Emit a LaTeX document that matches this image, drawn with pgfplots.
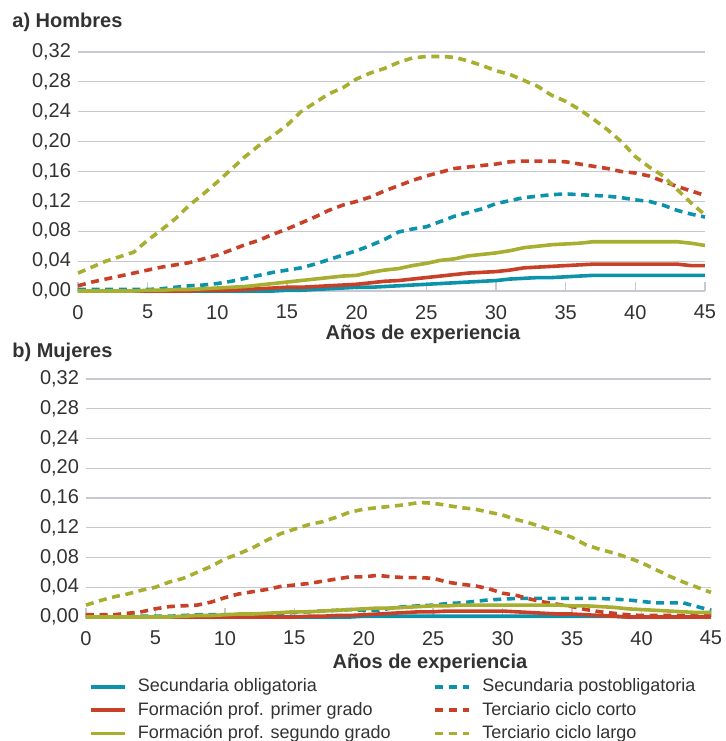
\documentclass[border=0pt]{standalone}
\usepackage{fontspec}
\setmainfont{Liberation Sans}
\usepackage{pgfplots}
\usepackage{pgfplotstable}
\pgfplotsset{compat=1.18}
\definecolor{cteal}{RGB}{12,146,170}
\definecolor{cred}{RGB}{200,64,40}
\definecolor{colive}{RGB}{168,174,48}
\definecolor{gridc}{RGB}{200,201,208}
\definecolor{txtc}{RGB}{50,50,50}

\pgfplotstableread{
x so sp fp1 tcc fp2 tcl
0 0.000 0.002 0.000 0.007 0.000 0.024
1 0.000 0.002 0.000 0.012 0.000 0.032
2 0.000 0.002 0.000 0.016 0.000 0.040
3 0.000 0.002 0.000 0.020 0.000 0.046
4 0.000 0.002 0.000 0.024 0.000 0.052
5 0.000 0.002 0.000 0.028 0.001 0.068
6 0.000 0.003 0.000 0.032 0.001 0.082
7 0.000 0.005 0.000 0.035 0.002 0.097
8 0.000 0.007 0.000 0.038 0.002 0.115
9 0.000 0.008 0.001 0.043 0.003 0.130
10 0.000 0.010 0.001 0.048 0.004 0.146
11 0.000 0.013 0.001 0.055 0.005 0.163
12 0.000 0.017 0.002 0.062 0.006 0.180
13 0.000 0.021 0.003 0.068 0.008 0.195
14 0.000 0.025 0.004 0.076 0.010 0.208
15 0.001 0.028 0.005 0.083 0.012 0.222
16 0.001 0.031 0.005 0.091 0.014 0.240
17 0.002 0.036 0.006 0.099 0.016 0.252
18 0.003 0.042 0.007 0.108 0.018 0.264
19 0.004 0.048 0.008 0.115 0.020 0.272
20 0.005 0.054 0.009 0.120 0.021 0.284
21 0.005 0.061 0.011 0.126 0.025 0.292
22 0.006 0.069 0.013 0.134 0.028 0.298
23 0.007 0.079 0.014 0.141 0.030 0.306
24 0.008 0.083 0.016 0.148 0.034 0.312
25 0.009 0.086 0.018 0.154 0.037 0.314
26 0.010 0.093 0.020 0.159 0.041 0.314
27 0.011 0.100 0.022 0.164 0.043 0.313
28 0.012 0.105 0.024 0.166 0.047 0.308
29 0.013 0.110 0.025 0.168 0.049 0.302
30 0.014 0.117 0.026 0.170 0.051 0.295
31 0.016 0.121 0.028 0.173 0.054 0.290
32 0.017 0.125 0.031 0.174 0.058 0.282
33 0.018 0.127 0.032 0.174 0.060 0.274
34 0.018 0.129 0.033 0.174 0.062 0.262
35 0.019 0.130 0.034 0.173 0.063 0.254
36 0.020 0.129 0.035 0.170 0.064 0.243
37 0.021 0.128 0.036 0.167 0.066 0.230
38 0.021 0.127 0.036 0.164 0.066 0.216
39 0.021 0.125 0.036 0.160 0.066 0.200
40 0.021 0.122 0.036 0.158 0.066 0.180
41 0.021 0.120 0.036 0.154 0.066 0.166
42 0.021 0.115 0.036 0.147 0.066 0.154
43 0.021 0.108 0.036 0.140 0.066 0.136
44 0.021 0.103 0.034 0.134 0.064 0.118
45 0.021 0.099 0.034 0.128 0.061 0.102
}\hombres

\pgfplotstableread{
x so sp fp1 tcc fp2 tcl
0 0.000 0.001 0.000 0.003 0.000 0.016
1 0.000 0.001 0.000 0.003 0.000 0.022
2 0.000 0.001 0.000 0.003 0.000 0.027
3 0.000 0.001 0.000 0.005 0.000 0.031
4 0.000 0.001 0.000 0.007 0.000 0.036
5 0.000 0.001 0.000 0.011 0.000 0.040
6 0.000 0.001 0.000 0.014 0.000 0.047
7 0.000 0.002 0.000 0.015 0.001 0.052
8 0.000 0.003 0.000 0.016 0.002 0.060
9 0.000 0.003 0.000 0.020 0.002 0.068
10 0.000 0.003 0.000 0.026 0.003 0.078
11 0.000 0.003 0.000 0.031 0.004 0.085
12 0.000 0.003 0.000 0.034 0.004 0.093
13 0.000 0.004 0.000 0.037 0.005 0.103
14 0.000 0.005 0.000 0.041 0.006 0.112
15 0.000 0.006 0.000 0.043 0.007 0.118
16 0.000 0.007 0.001 0.045 0.007 0.124
17 0.000 0.008 0.001 0.048 0.008 0.128
18 0.000 0.009 0.002 0.051 0.009 0.134
19 0.000 0.010 0.002 0.054 0.010 0.141
20 0.001 0.009 0.003 0.054 0.011 0.145
21 0.001 0.009 0.004 0.056 0.012 0.147
22 0.001 0.012 0.005 0.054 0.012 0.149
23 0.001 0.014 0.006 0.053 0.013 0.151
24 0.001 0.015 0.007 0.053 0.014 0.154
25 0.001 0.016 0.007 0.052 0.015 0.153
26 0.001 0.018 0.008 0.047 0.015 0.150
27 0.001 0.019 0.008 0.044 0.016 0.147
28 0.001 0.021 0.008 0.042 0.016 0.145
29 0.001 0.023 0.008 0.038 0.016 0.141
30 0.001 0.024 0.008 0.032 0.016 0.137
31 0.001 0.025 0.007 0.029 0.016 0.131
32 0.001 0.025 0.006 0.024 0.016 0.126
33 0.001 0.025 0.005 0.020 0.016 0.120
34 0.001 0.025 0.004 0.017 0.016 0.114
35 0.001 0.025 0.004 0.014 0.015 0.107
36 0.001 0.025 0.003 0.010 0.015 0.097
37 0.001 0.025 0.002 0.007 0.014 0.091
38 0.001 0.024 0.001 0.005 0.013 0.086
39 0.000 0.023 0.000 0.003 0.011 0.080
40 0.000 0.021 0.000 0.002 0.010 0.073
41 0.000 0.019 0.000 0.002 0.009 0.064
42 0.000 0.019 0.000 0.002 0.008 0.055
43 0.000 0.019 0.000 0.002 0.007 0.047
44 0.000 0.014 0.000 0.002 0.006 0.040
45 0.000 0.009 0.000 0.002 0.006 0.033
}\mujeres

\pgfplotsset{
  base/.style={
    scale only axis, anchor=south west, clip=false,
    xmin=0, xmax=45, ymin=0, ymax=0.32,
    xtick={0,5,...,45},
    ytick={0,0.04,0.08,0.12,0.16,0.20,0.24,0.28,0.32},
    axis x line*=bottom, axis y line*=left,
    x axis line style={draw=gridc, line width=0.8pt, -},
    y axis line style={draw=none},
    xtick style={draw=gridc, line width=0.8pt},
    ytick style={draw=none},
    xtick align=inside, major tick length=4.5pt,
    ymajorgrids, major grid style={draw=gridc, line width=0.6pt},
    /pgf/number format/assume math mode=true,
    tick label style={font=\fontsize{10}{12}\selectfont, text=txtc},
    xticklabel style={yshift=-3.5pt},
    yticklabel style={/pgf/number format/fixed, /pgf/number format/fixed zerofill,
      /pgf/number format/precision=2, /pgf/number format/use comma},
    xlabel={Años de experiencia},
    xlabel style={font=\bfseries\fontsize{10}{12}\selectfont, text=txtc,
      at={(axis description cs:0.5,0)}, anchor=center, xshift=15.75pt, yshift=-21.5pt},
    every axis plot/.append style={line width=1.8pt, line join=round},
    legend image code/.code={\draw[#1] (0pt,0pt) -- (17pt,0pt);},
  },
  sdash/.style={dash pattern=on 4pt off 2.8pt},
}

\begin{document}
\begin{tikzpicture}
\path[use as bounding box] (0,0) rectangle (363pt,-370.5pt);
\node[anchor=west, inner sep=0pt, font=\bfseries\fontsize{10}{12}\selectfont, text=txtc] at (6pt,-11pt) {a) Hombres};
\node[anchor=west, inner sep=0pt, font=\bfseries\fontsize{10}{12}\selectfont, text=txtc] at (6pt,-176pt) {b) Mujeres};

\begin{axis}[base, at={(39pt,-145.5pt)}, width=313.5pt, height=119.5pt]
\addplot[cteal] table[x=x,y=so]{\hombres};
\addplot[cteal, sdash] table[x=x,y=sp]{\hombres};
\addplot[cred] table[x=x,y=fp1]{\hombres};
\addplot[cred, sdash] table[x=x,y=tcc]{\hombres};
\addplot[colive] table[x=x,y=fp2]{\hombres};
\addplot[colive, sdash] table[x=x,y=tcl]{\hombres};
\end{axis}

\begin{axis}[base, at={(43pt,-308.5pt)}, width=312.5pt, height=119pt,
  xlabel style={yshift=-1.5pt},
  legend columns=2,
  legend cell align=left,
  legend style={draw=none, fill=none, at={(axis description cs:-0.005,-0.229)}, anchor=north west,
    font=\fontsize{9}{10.5}\selectfont, text=txtc,
    nodes={inner sep=1pt, text height=7pt, text depth=2pt},
    row sep=0.6pt,
    /tikz/every odd column/.append style={column sep=4.5pt},
    /tikz/every even column/.append style={column sep=20.5pt}},
]
\addplot[cteal] table[x=x,y=so]{\mujeres};
\addlegendentry{Secundaria obligatoria}
\addplot[cteal, sdash] table[x=x,y=sp]{\mujeres};
\addlegendentry{Secundaria postobligatoria}
\addplot[cred] table[x=x,y=fp1]{\mujeres};
\addlegendentry{Formación prof. primer grado}
\addplot[cred, sdash] table[x=x,y=tcc]{\mujeres};
\addlegendentry{Terciario ciclo corto}
\addplot[colive] table[x=x,y=fp2]{\mujeres};
\addlegendentry{Formación prof. segundo grado}
\addplot[colive, sdash] table[x=x,y=tcl]{\mujeres};
\addlegendentry{Terciario ciclo largo}
\end{axis}
\end{tikzpicture}
\end{document}
